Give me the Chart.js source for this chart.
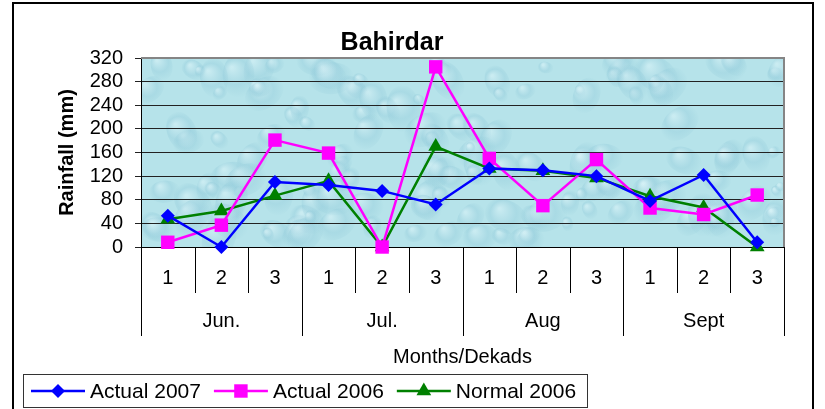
<!DOCTYPE html>
<html>
<head>
<meta charset="utf-8">
<script src="https://cdn.jsdelivr.net/npm/chart.js@4"></script>
<style>
  html, body { margin: 0; padding: 0; background: #fff; }
  #wrap { width: 825px; height: 409px; position: relative; }
</style>
</head>
<body>
<div id="wrap"><canvas id="chart"></canvas></div>
<script>
const dekads = ["1", "2", "3", "1", "2", "3", "1", "2", "3", "1", "2", "3"]
const months = ["Jun.", "Jul.", "Aug", "Sept"]
const actual2007 = [53, 0, 110, 105, 95, 72, 133, 130, 120, 78, 122, 8]
const actual2006 = [8, 37, 181, 159, 0, 305, 150, 70, 148, 66, 55, 88]
const normal2006 = [47, 61, 87, 112, 0, 170, 133, 129, 117, 86, 67, 0]
const yMin = 0
const yMax = 320
const yStep = 40

const fontFamily = "'Liberation Sans', Arial, sans-serif"
const ctx = document.getElementById("chart").getContext("2d")

// cheap deterministic hash for the water-drop texture
function hash(n) {
    const s = Math.sin(n * 127.1 + 11.7) * 43758.5453
    return s - Math.floor(s)
}

const backdrop = {
    id: "backdrop",
    beforeDraw(chart) {
        const c = chart.ctx
        const a = chart.chartArea
        c.save()
        c.beginPath()
        c.rect(a.left, a.top, a.width, a.height)
        c.clip()
        c.fillStyle = "#b6e3ea"
        c.fillRect(a.left, a.top, a.width, a.height)
        for (let i = 0; i < 150; i++) {
            const x = a.left + hash(i + 1) * a.width
            const y = a.top + hash(i + 500) * a.height
            const r = 6 + hash(i + 900) * 18
            const g = c.createRadialGradient(x - r * 0.3, y - r * 0.35, 1, x, y, r)
            g.addColorStop(0, "rgba(225,246,250,0.45)")
            g.addColorStop(0.55, "rgba(150,205,220,0.4)")
            g.addColorStop(1, "rgba(150,205,218,0)")
            c.fillStyle = g
            c.beginPath()
            c.ellipse(x, y, r * 0.7, r, hash(i + 1300) * Math.PI, 0, Math.PI * 2)
            c.fill()
        }
        c.restore()
    },
    beforeDatasetsDraw(chart) {
        const c = chart.ctx
        const a = chart.chartArea
        c.save()
        // grey frame on top and right of plot area
        c.strokeStyle = "#858585"
        c.lineWidth = 2
        c.beginPath()
        c.moveTo(a.left, a.top)
        c.lineTo(a.right, a.top)
        c.lineTo(a.right, a.bottom)
        c.stroke()
        // x axis line
        c.strokeStyle = "#000"
        c.lineWidth = 1
        c.beginPath()
        c.moveTo(a.left, Math.round(a.bottom) + 0.5)
        c.lineTo(a.right, Math.round(a.bottom) + 0.5)
        c.stroke()
        c.restore()
    }
}

function drawMarker(c, style, x, y, r, color) {
    c.fillStyle = color
    c.beginPath()
    if (style === "rectRot") {
        c.moveTo(x, y - r)
        c.lineTo(x + r, y)
        c.lineTo(x, y + r)
        c.lineTo(x - r, y)
    } else if (style === "rect") {
        const s = r * Math.SQRT1_2
        c.rect(x - s, y - s, 2 * s, 2 * s)
    } else {
        c.moveTo(x, y - r)
        c.lineTo(x + r * Math.sin(Math.PI * 2 / 3), y + r * 0.5)
        c.lineTo(x - r * Math.sin(Math.PI * 2 / 3), y + r * 0.5)
    }
    c.closePath()
    c.fill()
}

const axisDecor = {
    id: "axisDecor",
    afterDraw(chart) {
        const c = chart.ctx
        const a = chart.chartArea
        const xs = chart.scales.x
        const w = a.width / dekads.length
        const base = Math.round(a.bottom)
        c.save()
        c.strokeStyle = "#000"
        c.lineWidth = 1
        for (let k = 0; k <= dekads.length; k++) {
            const x = Math.round(a.left + k * w) + 0.5
            const end = k % 3 === 0 ? 336 : 293
            c.beginPath()
            c.moveTo(x, base)
            c.lineTo(x, end)
            c.stroke()
        }
        c.fillStyle = "#000"
        c.font = "20px " + fontFamily
        c.textAlign = "center"
        c.textBaseline = "middle"
        dekads.forEach((d, i) => c.fillText(d, xs.getPixelForValue(i), 278))
        months.forEach((m, j) => c.fillText(m, a.left + (j * 3 + 1.5) * w, 321))
        c.fillText("Months/Dekads", (a.left + a.right) / 2, 357)

        // legend with a box
        c.strokeStyle = "#333"
        c.strokeRect(23.5, 374.5, 564, 33)
        c.font = "21px " + fontFamily
        c.textAlign = "left"
        let x = 31
        const ly = 391
        chart.data.datasets.forEach(ds => {
            c.strokeStyle = ds.borderColor
            c.lineWidth = 2.5
            c.beginPath()
            c.moveTo(x, ly)
            c.lineTo(x + 54, ly)
            c.stroke()
            drawMarker(c, ds.pointStyle, x + 27, ly, ds.pointRadius, ds.borderColor)
            c.fillStyle = "#000"
            c.fillText(ds.label, x + 59, ly + 1)
            x += 59 + c.measureText(ds.label).width + 13
        })

        // outer frame
        c.strokeStyle = "#000"
        c.lineWidth = 2
        c.strokeRect(13, 3, 800, 420)
        c.restore()
    }
}

new Chart(ctx, {
    type: "line",
    data: {
        labels: dekads,
        datasets: [
            {
                label: "Actual 2007",
                data: actual2007,
                borderColor: "#0000ff",
                backgroundColor: "#0000ff",
                pointStyle: "rectRot",
                pointRadius: 7,
            },
            {
                label: "Actual 2006",
                data: actual2006,
                borderColor: "#ff00ff",
                backgroundColor: "#ff00ff",
                pointStyle: "rect",
                pointRadius: 9.5,
            },
            {
                label: "Normal 2006",
                data: normal2006,
                borderColor: "#008000",
                backgroundColor: "#008000",
                pointStyle: "triangle",
                pointRadius: 8.5,
            },
        ],
    },
    options: {
        responsive: true,
        maintainAspectRatio: false,
        animation: false,
        datasets: {
            line: {
                borderWidth: 2.5,
                tension: 0,
                clip: false,
                pointBorderWidth: 0,
                pointHoverRadius: 8,
            }
        },
        layout: {
            padding: { left: 0, right: 41, top: 0, bottom: 162 }
        },
        plugins: {
            legend: { display: false },
            tooltip: { enabled: false },
            title: {
                display: true,
                text: "Bahirdar",
                color: "#000",
                font: { family: fontFamily, size: 25, weight: "bold", lineHeight: 1.2 },
                padding: { top: 28, bottom: 0 },
            },
        },
        scales: {
            x: {
                display: false,
                offset: true,
            },
            y: {
                min: yMin,
                max: yMax,
                afterFit: scale => { scale.width = 141 },
                ticks: {
                    stepSize: yStep,
                    autoSkip: false,
                    color: "#000",
                    padding: 12,
                    font: { family: fontFamily, size: 20, lineHeight: 1 },
                },
                grid: {
                    color: "#222",
                    lineWidth: 1,
                    tickLength: 6,
                },
                border: { color: "#000", width: 1 },
                title: {
                    display: true,
                    text: "Rainfall (mm)",
                    color: "#000",
                    font: { family: fontFamily, size: 20, weight: "bold" },
                    padding: { top: 55, bottom: 0 },
                },
            },
        },
    },
    plugins: [backdrop, axisDecor],
})
</script>
</body>
</html>
